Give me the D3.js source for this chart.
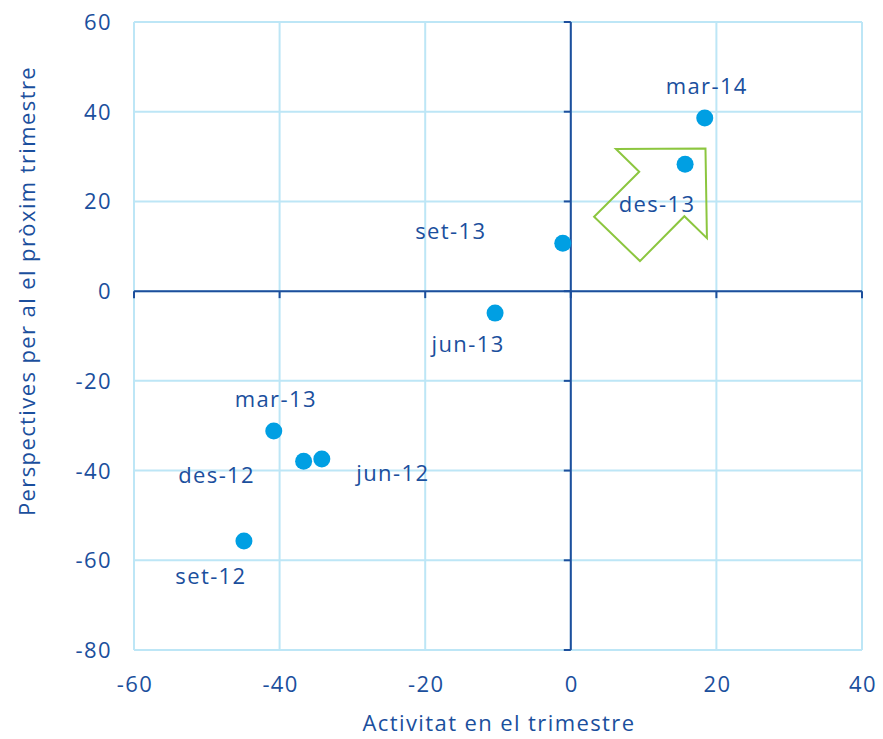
<!DOCTYPE html>
<html><head><meta charset="utf-8">
<script src="https://cdn.jsdelivr.net/npm/d3@7"></script>
<style>body{margin:0;background:#fff}svg{display:block}text{font-family:"Open Sans",sans-serif;fill:#1b4f9d;letter-spacing:1.4px}</style>
</head><body><svg id="c" width="883" height="739"></svg>
<script>
const labels = ["set-12","jun-12","des-12","mar-13","jun-13","set-13","des-13","mar-14"];
const activitat = [-44.9,-34.2,-36.7,-40.8,-10.4,-1.1,15.7,18.4];
const perspectives = [-55.7,-37.4,-37.9,-31.2,-4.9,10.7,28.3,38.6];
const xTicks = [-60,-40,-20,0,20,40];
const yTicks = [-80,-60,-40,-20,0,20,40,60];
const arrowX = [6.2,18.5,18.7,15.6,9.5,3.2,9.4];
const arrowY = [31.7,31.8,11.8,16.7,6.7,16.6,26.6];
// label offsets in px relative to point (layout)
const labelDx = [-33,71,-87,2,-27,-112,-28,2];
const labelDy = [35,14,14,-32,31,-12,40,-32];

const svg = d3.select("#c");
const L=134,R=862,T=22,B=650;
const x = d3.scaleLinear().domain([-60,40]).range([L,R]);
const y = d3.scaleLinear().domain([-80,60]).range([B,T]);
const grid="#bde6f6", dark="#1d4f9c";

const g = svg.append("g");
g.selectAll("line.vx").data(xTicks).join("line").attr("x1",d=>x(d)).attr("x2",d=>x(d)).attr("y1",T).attr("y2",B).attr("stroke",grid).attr("stroke-width",2);
g.selectAll("line.hy").data(yTicks).join("line").attr("class","hy").attr("y1",d=>y(d)).attr("y2",d=>y(d)).attr("x1",L).attr("x2",R).attr("stroke",grid).attr("stroke-width",2);

// zero axes
g.append("line").attr("x1",L).attr("x2",R).attr("y1",y(0)).attr("y2",y(0)).attr("stroke",dark).attr("stroke-width",2);
g.append("line").attr("x1",x(0)).attr("x2",x(0)).attr("y1",T).attr("y2",B).attr("stroke",dark).attr("stroke-width",2);
g.selectAll("line.tx").data(xTicks).join("line").attr("class","tx").attr("x1",d=>x(d)).attr("x2",d=>x(d)).attr("y1",y(0)).attr("y2",y(0)+7).attr("stroke",dark).attr("stroke-width",2);
g.selectAll("line.ty").data(yTicks).join("line").attr("class","ty").attr("y1",d=>y(d)).attr("y2",d=>y(d)).attr("x1",x(0)-7).attr("x2",x(0)).attr("stroke",dark).attr("stroke-width",2);

// tick labels
svg.selectAll("text.xt").data(xTicks).join("text").attr("class","xt").attr("x",d=>x(d)+1).attr("y",692).attr("text-anchor","middle").style("font-size","22px").text(d=>d);
svg.selectAll("text.yt").data(yTicks).join("text").attr("class","yt").attr("x",112).attr("y",d=>y(d)+8).attr("text-anchor","end").style("font-size","22px").text(d=>d);

// axis titles
svg.append("text").attr("x",499).attr("y",731).attr("text-anchor","middle").style("font-size","22px").text("Activitat en el trimestre");
svg.append("text").attr("transform","translate(35,291) rotate(-90)").attr("text-anchor","middle").style("font-size","22px").text("Perspectives per al el pròxim trimestre");

// arrow
const pts = arrowX.map((v,i)=>[x(v),y(arrowY[i])]);
svg.append("path").attr("d",d3.line().curve(d3.curveLinearClosed)(pts)).attr("fill","none").attr("stroke","#8cc63f").attr("stroke-width",2);

// points
svg.selectAll("circle").data(labels).join("circle").attr("cx",(d,i)=>x(activitat[i])).attr("cy",(d,i)=>y(perspectives[i])).attr("r",8.5).attr("fill","#009fe3");
svg.selectAll("text.lb").data(labels).join("text").attr("class","lb").attr("x",(d,i)=>x(activitat[i])+labelDx[i]).attr("y",(d,i)=>y(perspectives[i])+labelDy[i]+8).attr("text-anchor","middle").style("font-size","22px").text(d=>d);
</script></body></html>
